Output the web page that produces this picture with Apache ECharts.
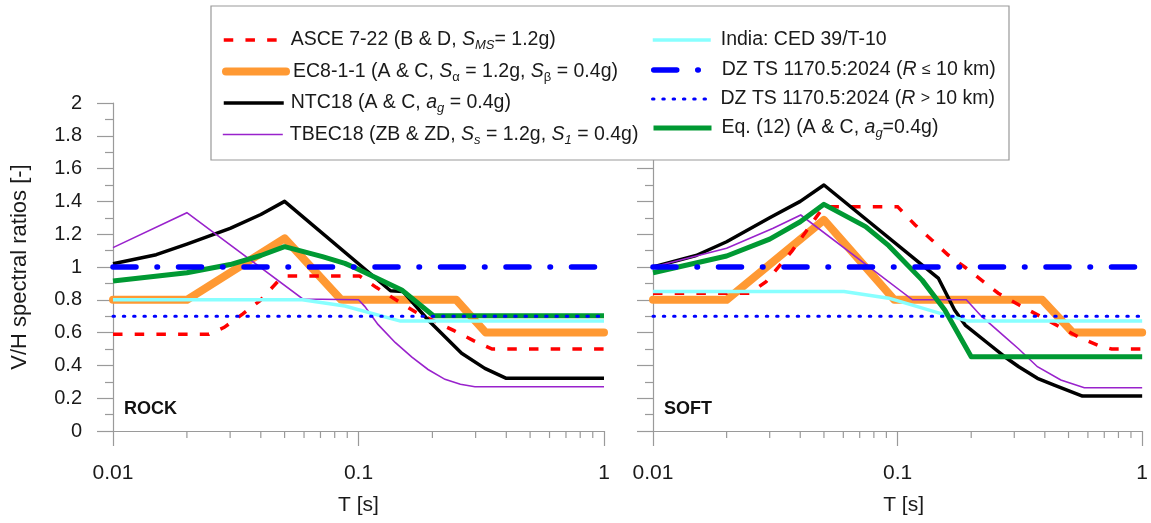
<!DOCTYPE html>
<html><head><meta charset="utf-8">
<script src="https://cdn.jsdelivr.net/npm/echarts@6/dist/echarts.min.js"></script>
<style>html,body{margin:0;padding:0;background:#fff}#c{width:1151px;height:523px}</style>
</head><body><div id="c"></div>
<script>
// ---------- DATA ----------
const seriesNames = [
  'ASCE 7-22 (B & D, SMS = 1.2g)',
  'EC8-1-1 (A & C, Sa = 1.2g, Sb = 0.4g)',
  'NTC18 (A & C, ag = 0.4g)',
  'TBEC18 (ZB & ZD, Ss = 1.2g, S1 = 0.4g)',
  'India: CED 39/T-10',
  'DZ TS 1170.5:2024 (R <= 10 km)',
  'DZ TS 1170.5:2024 (R > 10 km)',
  'Eq. (12) (A & C, ag=0.4g)'
];
const panelLabels = ['ROCK', 'SOFT'];
const xTickMinor = [0.02,0.03,0.04,0.05,0.06,0.07,0.08,0.09,0.2,0.3,0.4,0.5,0.6,0.7,0.8,0.9];

// ROCK panel
const asceRockT = [0.01, 0.0246, 0.0284, 0.0337, 0.0397, 0.0473, 0.05, 0.101, 0.118, 0.17, 0.245, 0.294, 0.35, 1];
const asceRockV = [0.59, 0.59, 0.632, 0.713, 0.795, 0.917, 0.945, 0.945, 0.876, 0.727, 0.612, 0.551, 0.50, 0.50];
const ec8RockT = [0.01, 0.02, 0.05, 0.085, 0.25, 0.33, 1];
const ec8RockV = [0.8, 0.8, 1.175, 0.8, 0.8, 0.6, 0.6];
const ntcRockT = [0.01, 0.015, 0.02, 0.03, 0.04, 0.05, 0.135, 0.152, 0.192, 0.263, 0.327, 0.40, 1];
const ntcRockV = [1.02, 1.075, 1.14, 1.235, 1.32, 1.40, 0.855, 0.85, 0.677, 0.474, 0.382, 0.321, 0.321];
const tbecRockT = [0.01, 0.02, 0.0593, 0.1, 0.106, 0.12, 0.141, 0.165, 0.192, 0.225, 0.26, 0.298, 1];
const tbecRockV = [1.118, 1.331, 0.805, 0.80, 0.76, 0.65, 0.54, 0.45, 0.375, 0.315, 0.285, 0.27, 0.27];
const indiaRockT = [0.01, 0.059, 0.088, 0.148, 1];
const indiaRockV = [0.80, 0.80, 0.762, 0.67, 0.67];
const dzNearRockT = [0.01, 1];
const dzNearRockV = [1.0, 1.0];
const dzFarRockT = [0.01, 1];
const dzFarRockV = [0.7, 0.7];
const eqRockT = [0.01, 0.02, 0.03, 0.04, 0.05, 0.0713, 0.088, 0.0977, 0.15, 0.202, 1];
const eqRockV = [0.915, 0.965, 1.015, 1.07, 1.124, 1.063, 1.022, 0.992, 0.86, 0.703, 0.703];

// SOFT panel
const asceSoftT = [0.01, 0.0248, 0.029, 0.0371, 0.0477, 0.05, 0.1, 0.118, 0.138, 0.161, 0.188, 0.258, 0.314, 0.386, 0.562, 0.657, 0.75, 1];
const asceSoftV = [0.84, 0.84, 0.91, 1.10, 1.327, 1.368, 1.368, 1.256, 1.165, 1.073, 1.0, 0.84, 0.768, 0.697, 0.565, 0.524, 0.50, 0.50];
const ec8SoftT = [0.01, 0.02, 0.05, 0.097, 0.39, 0.52, 1];
const ec8SoftV = [0.8, 0.8, 1.287, 0.8, 0.8, 0.6, 0.6];
const ntcSoftT = [0.01, 0.015, 0.02, 0.03, 0.04, 0.05, 0.147, 0.171, 0.189, 0.234, 0.274, 0.313, 0.373, 0.437, 0.57, 1];
const ntcSoftV = [1.0, 1.07, 1.154, 1.30, 1.40, 1.50, 0.93, 0.738, 0.646, 0.535, 0.453, 0.392, 0.321, 0.28, 0.213, 0.213];
const tbecSoftT = [0.01, 0.02, 0.031, 0.0402, 0.115, 0.191, 0.22, 0.274, 0.313, 0.373, 0.465, 0.58, 1];
const tbecSoftV = [1.0, 1.114, 1.236, 1.317, 0.80, 0.80, 0.70, 0.575, 0.5, 0.392, 0.311, 0.264, 0.264];
const indiaSoftT = [0.01, 0.0604, 0.092, 0.147, 0.194, 1];
const indiaSoftV = [0.85, 0.85, 0.81, 0.72, 0.67, 0.67];
const dzNearSoftT = [0.01, 1];
const dzNearSoftV = [1.0, 1.0];
const dzFarSoftT = [0.01, 1];
const dzFarSoftV = [0.7, 0.7];
const eqSoftT = [0.01, 0.02, 0.03, 0.04, 0.05, 0.074, 0.092, 0.1006, 0.126, 0.156, 0.2, 1];
const eqSoftV = [0.965, 1.067, 1.17, 1.276, 1.382, 1.246, 1.13, 1.07, 0.92, 0.738, 0.453, 0.453];

// ---------- STYLE ----------
const FONT = '"Liberation Sans", Arial, sans-serif';
const AX = '#9a9a9a';
const TXT = '#1a1a1a';
const styles = [
  {color:'#ff0000', width:3.5, type:[9.5,12.2], cap:'butt', z:4},
  {color:'#ff9933', width:8, cap:'round', join:'round', z:3},
  {color:'#000000', width:3.5, join:'round', z:5},
  {color:'#9922cc', width:1.6, z:6},
  {color:'#88ffff', width:3.5, z:7},
  {color:'#0000ff', width:5.5, type:[23,21,0.5,21], cap:'round', z:10},
  {color:'#0000ff', width:3, type:[1.5,8.8], cap:'round', z:9},
  {color:'#009933', width:5, join:'round', z:8}
];
const panels = [
  [[asceRockT,asceRockV],[ec8RockT,ec8RockV],[ntcRockT,ntcRockV],[tbecRockT,tbecRockV],[indiaRockT,indiaRockV],[dzNearRockT,dzNearRockV],[dzFarRockT,dzFarRockV],[eqRockT,eqRockV]],
  [[asceSoftT,asceSoftV],[ec8SoftT,ec8SoftV],[ntcSoftT,ntcSoftV],[tbecSoftT,tbecSoftV],[indiaSoftT,indiaSoftV],[dzNearSoftT,dzNearSoftV],[dzFarSoftT,dzFarSoftV],[eqSoftT,eqSoftV]]
];
const richNames = [
  'ASCE 7-22 (B & D, {i|S}{sub|MS}= 1.2g)',
  'EC8-1-1 (A & C, {i|S}{subn|α} = 1.2g, {i|S}{subn|β} = 0.4g)',
  'NTC18 (A & C, {i|a}{sub|g} = 0.4g)',
  'TBEC18 (ZB & ZD, {i|S}{sub|s} = 1.2g, {i|S}{sub|1} = 0.4g)',
  'India: CED 39/T-10',
  'DZ TS 1170.5:2024 ({i|R} {rel|≤} 10 km)',
  'DZ TS 1170.5:2024 ({i|R} {rel|>} 10 km)',
  'Eq. (12) (A & C, {i|a}{sub|g}=0.4g)'
];
// [left, centre y, icon width, extra text gap]
const legendPos = [[222,40,60,2],[222,71.5,60,2],[222,103,60,2],[222,134.5,60,2],[651,40,58,5],[651,70,58,5],[651,99,58,5],[651,128,58,5]];

const grids = [
  {left:113, right:547, top:103, bottom:92},
  {left:653, right:6, top:103, bottom:92}
];

const xAxes = grids.map((g,gi)=>({
  type:'log', logBase:10, min:0.01, max:1, gridIndex:gi,
  name:'T [s]', nameLocation:'middle', nameGap:64,
  nameTextStyle:{fontFamily:FONT, fontSize:21, color:TXT, padding: gi===1 ? [0,0,0,12] : 0},
  axisLine:{show:true, onZero:false, lineStyle:{color:AX, width:1.2}},
  axisTick:{show:true, length:15, lineStyle:{color:AX, width:1.2}},
  axisLabel:{margin:32, fontFamily:FONT, fontSize:21, color:TXT,
    formatter:v=>String(+(+v).toPrecision(6))},
  splitLine:{show:false}, minorTick:{show:false}
}));
const yAxes = grids.map((g,gi)=>({
  type:'value', gridIndex:gi, min:0, max:2, interval:0.2,
  name: gi===0 ? 'V/H spectral ratios [-]' : '',
  nameLocation:'middle', nameGap:82,
  nameTextStyle:{fontFamily:FONT, fontSize:22, color:TXT},
  axisLine:{show:true, lineStyle:{color:AX, width:1.2}},
  axisTick:{show:true, length:16, lineStyle:{color:AX, width:1.2}},
  minorTick:{show:true, splitNumber:2, length:8, lineStyle:{color:AX, width:1.2}},
  axisLabel:{show: gi===0, margin:31, fontFamily:FONT, fontSize:20, color:TXT},
  splitLine:{show:false}
}));

const series = [];
panels.forEach((p,gi)=>{
  p.forEach(([T,V],k)=>{
    const s = styles[k];
    series.push({
      type:'line', name:seriesNames[k], xAxisIndex:gi, yAxisIndex:gi,
      data:T.map((t,i)=>[t,V[i]]), symbol:'none', showSymbol:false,
      itemStyle:{color:s.color},
      lineStyle:{color:s.color, width:s.width, type:s.type||'solid', cap:s.cap||'butt', join:s.join||'miter'},
      z:s.z, animation:false, silent:true, clip:false, emphasis:{disabled:true}
    });
  });
  series.push({
    type:'custom', xAxisIndex:gi, yAxisIndex:gi, silent:true, clip:false, z:1,
    data:xTickMinor.map(t=>[t,0]),
    renderItem:(params, api)=>{
      const pt = api.coord([api.value(0), 0]);
      return {type:'line', shape:{x1:pt[0], y1:pt[1], x2:pt[0], y2:pt[1]+7},
        style:{stroke:AX, lineWidth:1.2}};
    }
  });
});

const rich = {
  i:{fontFamily:FONT, fontSize:19.5, fontStyle:'italic', color:TXT},
  sub:{fontFamily:FONT, fontSize:13, fontStyle:'italic', color:TXT, lineHeight:13, verticalAlign:'bottom'},
  subn:{fontFamily:FONT, fontSize:13, color:TXT, lineHeight:13, verticalAlign:'bottom'},
  rel:{fontFamily:FONT, fontSize:16, color:TXT}
};
const legends = seriesNames.map((n,k)=>({
  data:[n], orient:'vertical', left:legendPos[k][0], top:legendPos[k][1]-12,
  itemWidth:legendPos[k][2], itemHeight:24, padding:0, selectedMode:false, z:200,
  textStyle:{fontFamily:FONT, fontSize:19.5, color:TXT, lineHeight:24, padding:[0,0,0,legendPos[k][3]], rich},
  lineStyle:{width:'inherit'},
  itemStyle:{opacity:0, borderWidth:0},
  formatter:()=>richNames[k]
}));

const option = {
  animation:false,
  backgroundColor:'#fff',
  grid:grids,
  xAxis:xAxes, yAxis:yAxes,
  legend:legends,
  series:series,
  graphic:[
    {type:'rect', shape:{x:211, y:6, width:798, height:154}, style:{fill:'#fff', stroke:'#999', lineWidth:1.2}, z:100},
    {type:'text', x:124, y:409, z:100, style:{text:panelLabels[0], font:'bold 18px "Liberation Sans", Arial', fill:'#111', verticalAlign:'middle'}},
    {type:'text', x:664, y:409, z:100, style:{text:panelLabels[1], font:'bold 18px "Liberation Sans", Arial', fill:'#111', verticalAlign:'middle'}}
  ]
};
const chart = echarts.init(document.getElementById('c'), null, {renderer:'canvas'});
chart.setOption(option);
</script>
</body></html>
